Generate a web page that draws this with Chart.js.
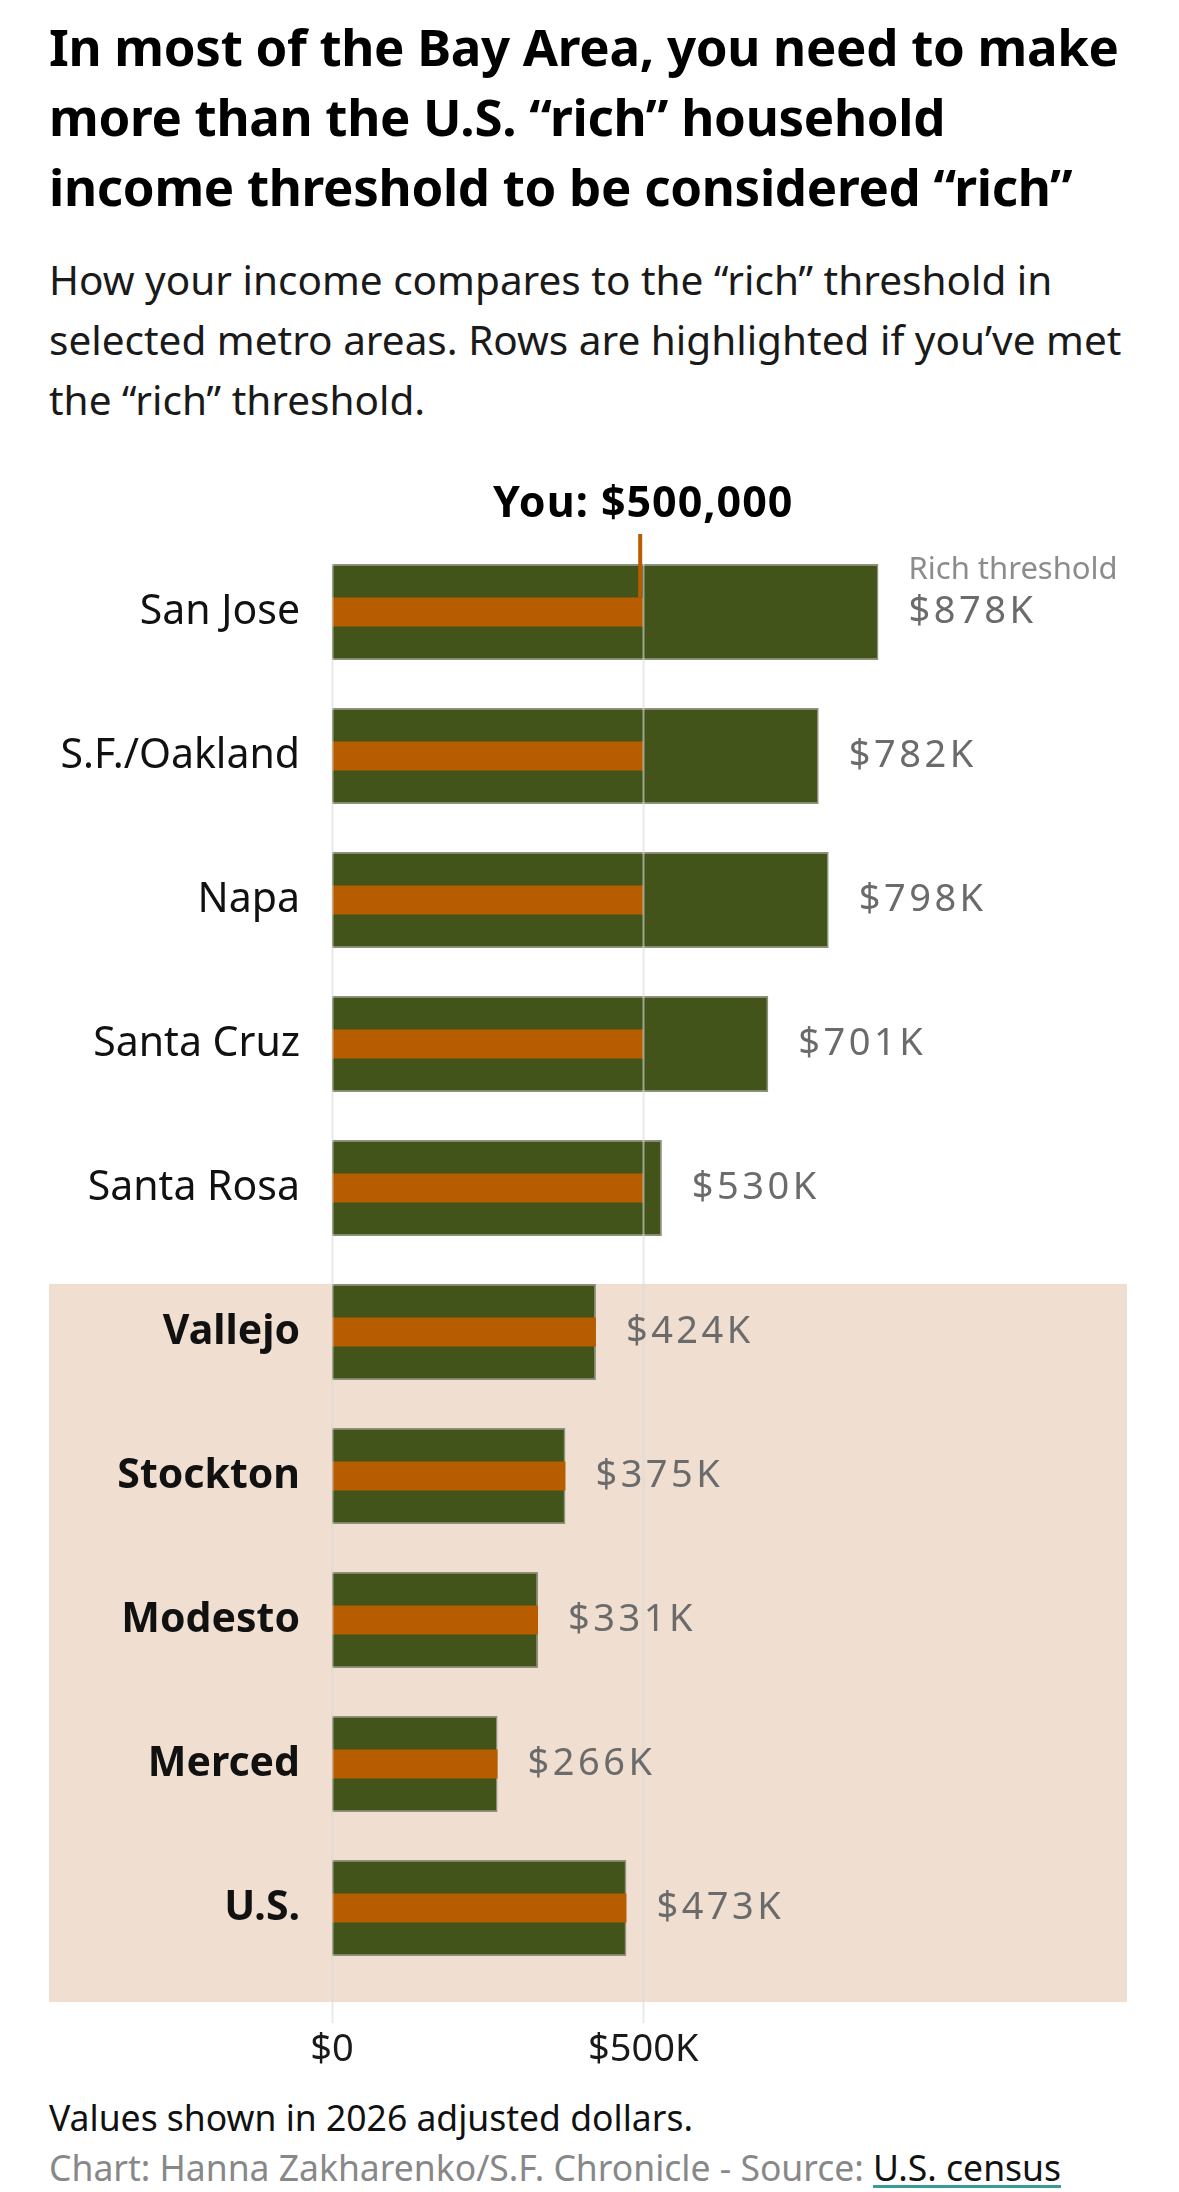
<!DOCTYPE html>
<html>
<head>
<meta charset="utf-8">
<script src="https://cdn.jsdelivr.net/npm/chart.js@4"></script>
<style>
  html, body { margin: 0; padding: 0; background: #fff; }
  body { width: 1179px; height: 2192px; position: relative; overflow: hidden; font-family: 'Noto Sans', sans-serif; }
  .title { position: absolute; left: 49px; top: 11px; font-size: 51px; line-height: 70px; font-weight: 700; color: #000; white-space: nowrap; letter-spacing: -0.3px; }
  .subtitle { position: absolute; left: 49px; top: 250px; font-size: 40.5px; line-height: 60px; color: #1a1a1a; white-space: nowrap; }
  .chart-box { position: absolute; left: 0; top: 470px; width: 1179px; height: 1610px; }
  .footer { position: absolute; left: 49px; top: 2092px; font-size: 35.5px; line-height: 50px; white-space: nowrap; }
  .footer .note { color: #111; }
  .footer .credit { color: #888; }
  .footer .credit span { color: #111; text-decoration: underline; text-decoration-color: #3a9a9a; text-decoration-thickness: 3px; text-underline-offset: 4px; }
</style>
</head>
<body>
<div class="title">In most of the Bay Area, you need to make<br>more than the U.S. “rich” household<br>income threshold to be considered “rich”</div>
<div class="subtitle">How your income compares to the “rich” threshold in<br>selected metro areas. Rows are highlighted if you’ve met<br>the “rich” threshold.</div>
<div class="chart-box"><canvas id="myChart"></canvas></div>
<div class="footer">
  <div class="note">Values shown in 2026 adjusted dollars.</div>
  <div class="credit">Chart: Hanna Zakharenko/S.F. Chronicle - Source: <span>U.S. census</span></div>
</div>
<script>
// Datos (miles de dólares)
const categories = ['San Jose', 'S.F./Oakland', 'Napa', 'Santa Cruz', 'Santa Rosa',
                    'Vallejo', 'Stockton', 'Modesto', 'Merced', 'U.S.'];
const richThreshold = [878, 782, 798, 701, 530, 424, 375, 331, 266, 473];
const yourBar = [500, 500, 500, 500, 500, 424, 375, 331, 266, 473];
const yourIncome = 500;
const yourLabel = 'You: $500,000';
const xTicks = [0, 500];
const xTickLabels = ['$0', '$500K'];
const highlightFrom = 5; // filas donde ya alcanzas el umbral

const GREEN = '#42541a';
const ORANGE = '#b85c00';
const FONT = "'Noto Sans', sans-serif";

const overlay = {
    id: 'overlay',
    beforeDraw(chart) {
        const { ctx } = chart;
        const y = chart.scales.y;
        const green = chart.getDatasetMeta(1).data;
        if (!green.length) return;
        const half = green[0].height / 2;
        const top = y.getPixelForValue(highlightFrom) - half;
        const bottom = y.getPixelForValue(categories.length - 1) + half + 46;
        ctx.save();
        ctx.fillStyle = '#f0dfd0';
        ctx.fillRect(49, top, 1127 - 49, bottom - top);
        ctx.restore();
    },
    afterDatasetsDraw(chart) {
        const { ctx } = chart;
        const x = chart.scales.x;
        const y = chart.scales.y;
        const green = chart.getDatasetMeta(1).data;
        const orange = chart.getDatasetMeta(0).data;
        const half = green[0].height / 2;
        ctx.save();

        // lineas de referencia en 0 y 500K
        ctx.strokeStyle = 'rgba(220, 220, 220, 0.6)';
        ctx.lineWidth = 2;
        xTicks.forEach(v => {
            const px = Math.round(x.getPixelForValue(v)) + 0.5;
            ctx.beginPath();
            ctx.moveTo(px, y.getPixelForValue(0) - half);
            ctx.lineTo(px, x.top + 43);
            ctx.stroke();
        });

        // etiquetas de valor
        ctx.textBaseline = 'middle';
        ctx.textAlign = 'left';
        richThreshold.forEach((v, i) => {
            const px = x.getPixelForValue(v) + 30;
            const py = y.getPixelForValue(i);
            ctx.fillStyle = '#6b6b6b';
            ctx.font = '38px ' + FONT;
            ctx.letterSpacing = '3.5px';
            ctx.fillText('$' + v + 'K', px, py);
            if (i === 0) {
                ctx.letterSpacing = '0px';
                ctx.fillStyle = '#8c8c8c';
                ctx.font = '31px ' + FONT;
                ctx.fillText('Rich threshold', px, py - 42);
            }
        });

        // marcador "You"
        const yx = x.getPixelForValue(yourIncome);
        const oTop = orange[0].y - orange[0].height / 2;
        ctx.fillStyle = ORANGE;
        ctx.fillRect(yx - 5, 64, 4, oTop - 64);
        ctx.fillStyle = '#000';
        ctx.textAlign = 'center';
        ctx.font = 'bold 43px ' + FONT;
        ctx.letterSpacing = '1px';
        ctx.fillText(yourLabel, yx, 35);
        ctx.letterSpacing = '0px';
        ctx.restore();
    }
};

const data = {
    labels: categories,
    datasets: [{
        label: 'Your income',
        data: yourBar,
        backgroundColor: ORANGE,
        borderWidth: 0,
        grouped: false,
        barPercentage: 0.2,
        categoryPercentage: 1
    }, {
        label: 'Rich threshold',
        data: richThreshold,
        backgroundColor: GREEN,
        borderColor: '#8f8f80',
        borderWidth: 1.5,
        grouped: false,
        barPercentage: 0.668,
        categoryPercentage: 1
    }]
};

const config = {
    type: 'bar',
    data: data,
    options: {
        indexAxis: 'y',
        responsive: true,
        maintainAspectRatio: false,
        animation: false,
        layout: { padding: { top: 70, bottom: 0, left: 0, right: 69 } },
        plugins: {
            legend: { display: false },
            tooltip: { enabled: false },
            title: { display: false }
        },
        scales: {
            x: {
                min: 0,
                max: 1250,
                grid: { display: false, drawTicks: false },
                border: { display: false },
                afterFit: s => { s.height = 100; },
                afterBuildTicks: s => { s.ticks = xTicks.map(v => ({ value: v })); },
                ticks: {
                    padding: 47,
                    color: '#1a1a1a',
                    font: { size: 38, family: FONT },
                    maxRotation: 0,
                    callback: (v) => xTickLabels[xTicks.indexOf(v)]
                }
            },
            y: {
                grid: { display: false, drawTicks: false },
                border: { display: false },
                afterFit: s => { s.width = 332; },
                ticks: {
                    padding: 32,
                    color: '#111',
                    font: (c) => ({
                        size: 41,
                        family: FONT,
                        weight: c.index >= highlightFrom ? 'bold' : 'normal'
                    })
                }
            }
        }
    },
    plugins: [overlay]
};

new Chart(document.getElementById('myChart').getContext('2d'), config);
</script>
</body>
</html>
